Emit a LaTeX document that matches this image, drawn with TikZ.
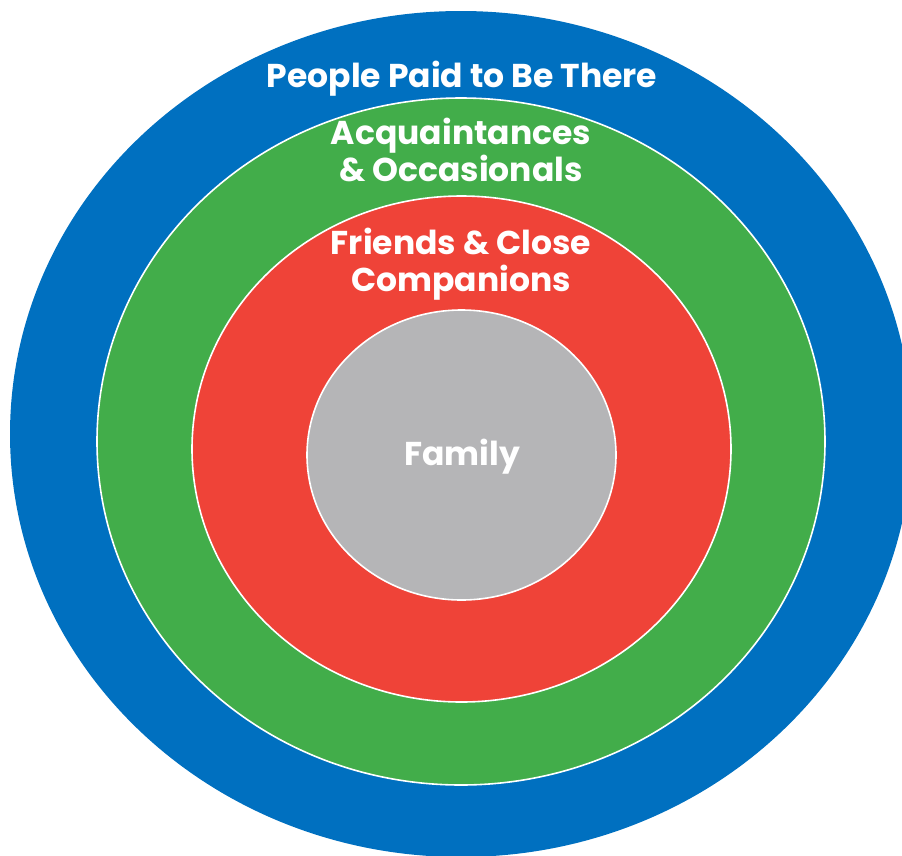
\documentclass[tikz,border=0pt]{standalone}
\usepackage{fontspec}
\setmainfont{Poppins}
\usepackage{xcolor}
\usetikzlibrary{positioning}

\definecolor{paidblue}{HTML}{0070C0}
\definecolor{acqgreen}{HTML}{42AD4A}
\definecolor{friendred}{HTML}{EF4338}
\definecolor{familygray}{HTML}{B5B5B7}

\tikzset{
    ring/.style={draw=white, line width=1.6pt},
    circlelabel/.style={text=white, font=\fontsize{33}{37}\selectfont\bfseries, align=center, inner sep=0pt}
}

\begin{document}
\begin{tikzpicture}[x=1pt, y=-1pt]
                        \useasboundingbox (0, 0) rectangle (902, 855);
                        \clip (0, 0) rectangle (902, 855);
                        \fill[paidblue] (461, 434) ellipse [x radius=451, y radius=423];
                        \filldraw[ring, fill=acqgreen] (461, 441.5) ellipse [x radius=364, y radius=343.5];
                        \filldraw[ring, fill=friendred] (461.5, 449) ellipse [x radius=269.5, y radius=253];
                        \filldraw[ring, fill=familygray] (461.5, 455) ellipse [x radius=154.5, y radius=145];
                        \node[circlelabel] (paid) at (462, 79) {People Paid to Be There};
                        \node[circlelabel] (acquaintances) at (461, 150) {Acquaintances\\\& Occasionals};
                        \node[circlelabel] (friends) at (461, 264.5) {Friends \& Close\\Companions};
                        \node[circlelabel] (family) at (462, 457) {Family};
                    \end{tikzpicture}
\end{document}
